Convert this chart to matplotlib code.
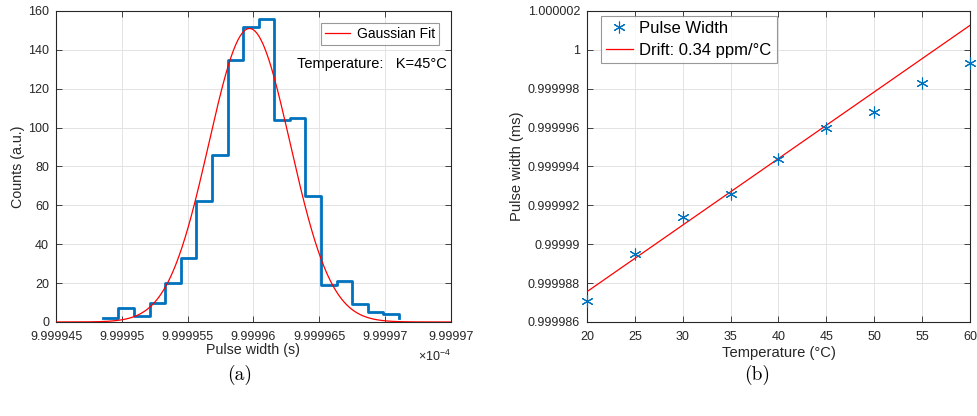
import matplotlib
matplotlib.use("Agg")
import matplotlib.pyplot as plt
import numpy as np

# histogram of pulse widths (x in units of 1e-4 s)
bin_edges = [9.99994856, 9.99994974, 9.99995093, 9.99995211, 9.99995330,
             9.99995448, 9.99995566, 9.99995685, 9.99995803, 9.99995922,
             9.99996040, 9.99996158, 9.99996277, 9.99996395, 9.99996514,
             9.99996632, 9.99996750, 9.99996869, 9.99996987, 9.99997106]
counts = [2, 7, 3, 10, 20, 33, 62, 86, 135, 152, 156, 104, 105, 65, 19, 21, 9, 5, 4, 2]

# gaussian fit parameters
fit_amp = 151.0
fit_mu = 9.9999597
fit_sigma = 0.0000031

hist_xticks = [9.999945, 9.99995, 9.999955, 9.99996, 9.999965, 9.99997, 9.999975]
hist_xlabels = ["9.999945", "9.99995", "9.999955", "9.99996", "9.999965", "9.99997", "9.99997"]

# pulse width vs temperature
temps = [20, 25, 30, 35, 40, 45, 50, 55, 60]
widths = [0.9999871, 0.9999895, 0.9999914, 0.9999926, 0.9999944,
          0.9999960, 0.9999968, 0.9999983, 0.9999993]
drift_slope = 0.3425e-6
drift_at20 = 0.99998756

width_yticks = [0.999986, 0.999988, 0.99999, 0.999992, 0.999994, 0.999996, 0.999998, 1.0, 1.000002]
width_ylabels = ["0.999986", "0.999988", "0.99999", "0.999992", "0.999994",
                 "0.999996", "0.999998", "1", "1.000002"]

blue = "#0072BD"
dark = "#262626"

plt.rcParams['font.family'] = ['Liberation Sans', 'DejaVu Sans']
plt.rcParams['mathtext.fontset'] = 'custom'
plt.rcParams['mathtext.rm'] = 'Liberation Sans'

fig = plt.figure(figsize=(9.78, 4.16), dpi=100)
ax1 = fig.add_axes([0.0573, 0.226, 0.4037, 0.7476])
ax2 = fig.add_axes([0.6002, 0.226, 0.3916, 0.7476])


def style(ax):
    for s in ax.spines.values():
        s.set_color(dark)
        s.set_linewidth(0.8)
    ax.tick_params(direction='in', top=True, right=True, length=4, width=0.6,
                   colors=dark, labelsize=9)
    ax.tick_params(axis='x', pad=6.5)
    ax.tick_params(axis='y', pad=5)
    ax.grid(True, color='#e3e3e3', linewidth=0.7)
    ax.set_axisbelow(True)


# left: histogram
style(ax1)
xs = np.linspace(hist_xticks[0], hist_xticks[-1], 500)
gauss = fit_amp * np.exp(-(xs - fit_mu) ** 2 / (2 * fit_sigma ** 2))
ax1.step(bin_edges, counts, where='post', color=blue, lw=2.0, zorder=3)
ax1.plot(xs, gauss, color='#ff0000', lw=0.9, label='Gaussian Fit', zorder=4)
ax1.set_xlim(hist_xticks[0], hist_xticks[-1])
ax1.set_ylim(0, 160)
ax1.set_xticks(hist_xticks)
ax1.set_xticklabels(hist_xlabels)
ax1.set_yticks(np.arange(0, 161, 20))
ax1.set_xlabel('Pulse width (s)', fontsize=10.3, color=dark, labelpad=0)
ax1.set_ylabel('Counts (a.u.)', fontsize=10.3, color=dark, labelpad=2)
leg1 = ax1.legend(loc='upper right', fontsize=10, frameon=True, fancybox=False,
                  edgecolor='#7f7f7f', handlelength=1.8, handletextpad=0.5,
                  borderpad=0.3, borderaxespad=0, bbox_to_anchor=(0.97, 0.961))
leg1.get_frame().set_linewidth(0.8)
ax1.text(0.99, 0.83, 'Temperature:   K=45°C', transform=ax1.transAxes,
         ha='right', va='center', fontsize=10.5, color='black')
ax1.text(1.0, -0.11, '×10$^{-4}$', transform=ax1.transAxes,
         ha='right', va='center', fontsize=9, color=dark)

# right: drift
style(ax2)
t_line = np.array([temps[0], temps[-1]])
ax2.plot(temps, widths, linestyle='none', marker=(6, 2, 0), markersize=8.5,
         markeredgewidth=0.8, color=blue, label='Pulse Width', zorder=5,
         clip_on=False)
ax2.plot(t_line, drift_at20 + drift_slope * (t_line - 20), color='#ff0000', lw=0.9,
         label='Drift: 0.34 ppm/°C', zorder=4)
ax2.set_xlim(20, 60)
ax2.set_ylim(0.999986, 1.000002)
ax2.set_xticks(np.arange(20, 61, 5))
ax2.set_yticks(width_yticks)
ax2.set_yticklabels(width_ylabels)
ax2.set_xlabel('Temperature (°C)', fontsize=10.6, color=dark, labelpad=2)
ax2.set_ylabel('Pulse width (ms)', fontsize=10.6, color=dark, labelpad=3)
leg2 = ax2.legend(loc='upper left', fontsize=12, frameon=True, fancybox=False,
                  edgecolor='#7f7f7f', handlelength=1.6, handletextpad=0.4,
                  borderpad=0.3, labelspacing=0.4, borderaxespad=0,
                  bbox_to_anchor=(0.0366, 0.984))
leg2.get_frame().set_linewidth(0.8)

fig.text(0.2454, 0.098, '(a)', ha='center', va='center', fontsize=14, fontfamily='cmr10')
fig.text(0.774, 0.098, '(b)', ha='center', va='center', fontsize=14, fontfamily='cmr10')

fig.savefig('out.png', dpi=100)
